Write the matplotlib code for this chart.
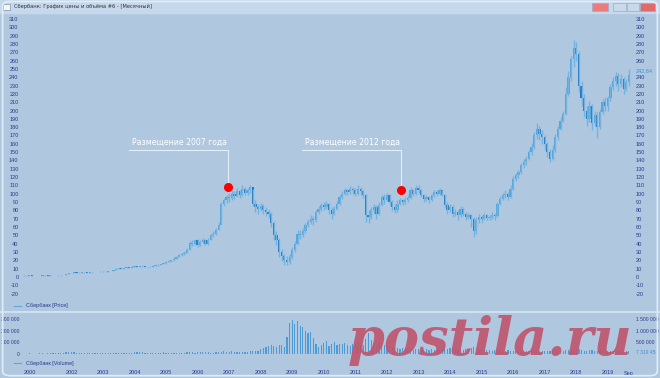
# Sberbank monthly price/volume chart (terminal window look)
import numpy as np
import matplotlib.pyplot as plt
from matplotlib.patches import Rectangle, FancyBboxPatch
from matplotlib.lines import Line2D

plt.rcParams['axes.unicode_minus'] = False
plt.rcParams['font.family'] = ['Liberation Sans', 'DejaVu Sans']

# monthly bars, Jul 2000 .. Sep 2019 (index 0 = Jul 2000)
close = [1.8, 1.7, 1.9, 1.6, 1.5, 1.6,
         1.7, 1.9, 2.0, 1.8, 2.0, 2.1, 2.0, 1.9, 2.2, 2.8, 3.6, 4.5,
         5.0, 5.5, 5.0, 5.4, 5.8, 5.5, 5.3, 5.6, 5.8, 5.9, 6.1, 6.4,
         6.5, 6.6, 6.8, 7.5, 8.6, 9.8, 10.5, 10.2, 11.0, 12.0, 11.4, 12.2,
         13.0, 12.5, 12.8, 13.3, 12.0, 11.8, 12.5, 13.2, 14.0, 14.5, 15.5, 16.8,
         18, 19, 20, 22, 24, 26, 27.5, 29, 33, 41, 40, 44,
         38, 42, 44, 40, 45, 50, 52, 57, 63, 88, 92, 96,
         95, 100, 97, 103, 98, 106, 101, 104, 108, 88, 84, 82,
         85, 80, 78, 76, 65, 50, 45, 30, 25, 20, 18, 24,
         33, 40, 52, 50, 55, 62, 66, 70, 68, 78, 82, 86,
         84, 88, 80, 76, 82, 88, 96, 100, 104, 102, 106, 104,
         100, 106, 103, 98, 75, 72, 80, 84, 76, 86, 96, 93,
         98, 90, 84, 80, 88, 92, 90, 93, 95, 104, 100, 107,
         104, 98, 94, 96, 92, 98, 102, 100, 104, 99, 86, 80,
         84, 76, 78, 74, 82, 76, 72, 74, 70, 55, 68, 72,
         70, 74, 71, 72, 75, 73, 88, 94, 98, 100, 96, 106,
         118, 122, 126, 134, 138, 142, 150, 156, 170, 178, 172, 168,
         160, 150, 142, 152, 168, 178, 188, 196, 220, 240, 262, 275,
         268, 230, 215, 200, 190, 205, 185, 195, 180, 198, 210, 205,
         215, 228, 235, 242, 232, 238, 226, 234, 243]
high = [2.0, 1.9, 2.0, 2.0, 1.7, 1.7,
        1.8, 2.0, 2.2, 2.1, 2.1, 2.3, 2.2, 2.1, 2.4, 3.0, 3.8, 4.8,
        5.4, 5.9, 5.7, 5.8, 6.2, 6.0, 5.7, 5.9, 6.1, 6.2, 6.4, 6.8,
        7.0, 7.0, 7.2, 7.8, 9.0, 10.3, 11.0, 11.0, 11.5, 12.6, 12.4, 12.8,
        13.6, 13.4, 13.3, 13.9, 13.5, 12.6, 12.9, 13.6, 14.5, 15.1, 16.0, 17.4,
        19, 20.5, 21, 23.5, 25, 27.5, 29, 31, 35, 43, 44, 46,
        46, 44, 47, 46, 47, 52, 55, 59, 66, 90, 95, 99,
        101, 104, 103, 107, 105, 110, 108, 107, 111, 106, 92, 88,
        89, 88, 84, 82, 78, 67, 55, 47, 34, 28, 25, 28,
        36, 43, 56, 57, 59, 65, 70, 74, 73, 80, 85, 89,
        90, 91, 89, 84, 85, 91, 98, 103, 107, 106, 109, 108,
        107, 110, 108, 105, 100, 80, 84, 88, 86, 90, 99, 100,
        101, 100, 92, 88, 92, 95, 94, 96, 98, 108, 106, 110,
        110, 106, 100, 99, 97, 100, 105, 105, 107, 105, 100, 90,
        88, 86, 82, 80, 85, 84, 78, 77, 76, 72, 72, 76,
        75, 77, 76, 75, 78, 77, 90, 97, 101, 104, 102, 110,
        121, 125, 129, 137, 142, 145, 153, 161, 174, 185, 182, 176,
        170, 162, 154, 158, 172, 182, 192, 200, 228, 248, 266, 285,
        282, 272, 236, 220, 206, 212, 208, 200, 198, 202, 214, 216,
        218, 232, 240, 246, 245, 244, 240, 238, 250]
low = [1.6, 1.6, 1.6, 1.5, 1.4, 1.4,
       1.5, 1.6, 1.8, 1.7, 1.7, 1.9, 1.9, 1.8, 1.8, 2.1, 2.7, 3.5,
       4.3, 4.8, 4.8, 4.9, 5.2, 5.2, 5.0, 5.1, 5.4, 5.6, 5.7, 5.9,
       6.2, 6.3, 6.4, 6.7, 7.4, 8.4, 9.5, 9.8, 10.0, 10.8, 11.0, 11.2,
       12.0, 12.2, 12.2, 12.5, 11.5, 11.2, 11.6, 12.3, 13.0, 13.8, 14.3, 15.2,
       16.2, 17.5, 18.5, 19.5, 21.5, 23.5, 25.5, 26.5, 28.5, 32, 37, 39,
       36, 37, 41, 38, 39, 44, 48, 51, 56, 64, 85, 89,
       90, 93, 94, 96, 95, 97, 98, 99, 101, 85, 78, 76,
       79, 76, 73, 71, 60, 44, 38, 24, 19, 15, 14, 16,
       22, 30, 38, 46, 48, 53, 60, 64, 63, 66, 76, 79,
       80, 82, 76, 70, 74, 80, 86, 94, 98, 98, 100, 100,
       97, 99, 99, 95, 66, 65, 70, 76, 70, 74, 85, 88,
       91, 87, 79, 77, 78, 86, 87, 88, 90, 94, 97, 98,
       101, 96, 90, 91, 89, 91, 96, 97, 99, 97, 84, 76,
       78, 72, 73, 69, 72, 73, 68, 70, 60, 48, 52, 65,
       65, 68, 68, 68, 70, 69, 72, 86, 92, 95, 93, 95,
       104, 115, 119, 124, 131, 134, 140, 147, 154, 166, 165, 160,
       152, 144, 138, 140, 150, 165, 176, 186, 195, 218, 236, 252,
       260, 222, 205, 192, 182, 186, 176, 182, 167, 178, 196, 200,
       200, 212, 225, 230, 224, 228, 220, 224, 230]
# volume, thousands
volume = [4, 3, 5, 4, 3, 4,
          5, 6, 4, 7, 8, 6, 5, 7, 9, 12, 15, 18,
          14, 20, 12, 10, 8, 9, 7, 6, 8, 7, 6, 9,
          8, 7, 9, 10, 12, 8, 7, 6, 8, 9, 11, 10,
          15, 18, 14, 16, 12, 10, 9, 8, 10, 12, 11, 13,
          9, 8, 10, 9, 11, 12, 10, 9, 13, 15, 14, 12,
          14, 16, 18, 15, 13, 12, 11, 14, 16, 20, 22, 18,
          20, 22, 18, 16, 19, 17, 15, 18, 24, 30, 26, 22,
          45, 55, 62, 70, 78, 72, 60, 75, 80, 62, 150, 270,
          290, 260, 280, 240, 230, 200, 180, 190, 135, 90, 60, 80,
          95, 110, 70, 85, 100, 75, 90, 85, 95, 80, 70, 90,
          85, 95, 80, 75, 130, 180, 120, 95, 85, 100, 80, 75,
          65, 70, 55, 60, 50, 45, 55, 50, 40, 42, 38, 45,
          40, 38, 35, 42, 36, 40, 38, 35, 42, 48, 52, 45,
          50, 55, 48, 45, 40, 38, 42, 46, 50, 58, 48, 44,
          40, 42, 38, 35, 30, 32, 34, 36, 30, 28, 32, 30,
          30, 28, 32, 30, 26, 28, 25, 27, 30, 32, 28, 26,
          28, 25, 30, 27, 24, 26, 28, 30, 32, 35, 38, 30,
          40, 45, 38, 30, 28, 32, 35, 30, 28, 32, 30, 28,
          26, 28, 25, 30, 24, 27, 25, 28, 22]

year_pos = [2.3, 18, 30, 42, 54, 66, 78, 90, 102, 114, 126, 138, 150, 162, 174, 186, 198, 210, 222, 230]
year_lbl = ['2000', '2002', '2003', '2004', '2005', '2006', '2007', '2008', '2009', '2010',
            '2011', '2012', '2013', '2014', '2015', '2016', '2017', '2018', '2019', 'Sep']

place_idx = [77.5, 143.3]
place_val = [108, 104.5]
place_txt = ['Размещение 2007 года', 'Размещение 2012 года']

assert len(close) == len(high) == len(low) == len(volume) == 231

BG = '#afc8df'
TXT = '#2b3990'
W, H = 660, 378
FS = 4.0
FSV = 3.6


def fx(x):
    return x / W


def fy(y):
    return 1 - y / H


fig = plt.figure(figsize=(6.6, 3.78), dpi=100)
fig.patch.set_facecolor(BG)

# title bar
fig.add_artist(Rectangle((0, fy(13)), 1, 13 / H, transform=fig.transFigure, color='#c6d9ec', zorder=0))
fig.add_artist(Rectangle((fx(3), fy(10)), 7 / W, 6 / H, transform=fig.transFigure,
                         facecolor='#f4f4f4', edgecolor='#8090a8', lw=0.5))
fig.text(fx(14), fy(6.5), 'Сбербанк: График цены и объёма #6 - [Месячный]', fontsize=3.7,
         color='#303030', va='center', family='DejaVu Sans')
for x0, w, c in [(592, 16, '#ee7b7b'), (613, 13, '#c9d9ea'), (627, 12, '#c9d9ea'), (640, 15, '#e06a6a')]:
    fig.add_artist(Rectangle((fx(x0), fy(11)), w / W, 8 / H, transform=fig.transFigure,
                             facecolor=c, edgecolor='#9aaec4', lw=0.5))

x = np.arange(len(close))
c = np.array(close)
o = np.r_[c[0], c[:-1]]
up = c >= o

# price panel
ax = fig.add_axes([fx(22), fy(300), (634 - 22) / W, (300 - 15) / H])
ax.set_facecolor('none')
ax.vlines(x, low, high, color='#74b2e0', lw=1.0)
ax.bar(x[up], (c - o)[up], bottom=o[up], width=0.85, color='#55a5dc')
ax.bar(x[~up], (c - o)[~up], bottom=o[~up], width=0.85, color='#1d78c0')
ax.set_xlim((22 - 24) / 2.63, (634 - 24) / 2.63)
ax.set_ylim((277 - 300) / 0.8324, (277 - 15) / 0.8324)
ax.set_yticks(range(-20, 311, 10))
ax.set_xticks([])
ax.tick_params(axis='y', length=0, labelsize=FS, labelcolor=TXT, pad=2.5)
axr = ax.twinx()
axr.set_ylim(ax.get_ylim())
axr.set_yticks([t for t in range(-20, 311, 10) if t != 250])
axr.tick_params(axis='y', length=0, labelsize=FS, labelcolor=TXT, pad=1.5)
for a in (ax, axr):
    for s in a.spines.values():
        s.set_visible(False)

for i, v, t in zip(place_idx, place_val, place_txt):
    ax.plot([i - 37.6, i, i], [152.6, 152.6, v], color='#e4eef7', lw=0.8)
    ax.plot(i, v, 'o', color='#ff0000', ms=5.5)
    ax.text(i - 36.5, 156, t, color='white', fontsize=5.6, va='bottom', family='DejaVu Sans')

fig.text(fx(636), fy(71), '242,84', fontsize=FS, color='#3d92d6', va='center')

# legend rows
fig.add_artist(Line2D([fx(14), fx(21)], [fy(306), fy(306)], color='#5aa6dc', lw=0.8))
fig.text(fx(26), fy(306), 'Сбербанк [Price]', fontsize=FS, color=TXT, va='center')
fig.add_artist(Line2D([0, 1], [fy(311.5), fy(311.5)], color='#d8e6f3', lw=1.2))
fig.add_artist(Line2D([fx(14), fx(21)], [fy(363), fy(363)], color='#5aa6dc', lw=0.8))
fig.text(fx(26), fy(363), 'Сбербанк [Volume]', fontsize=FS, color=TXT, va='center')

# volume panel
av = fig.add_axes([fx(22), fy(358), (634 - 22) / W, (358 - 313) / H])
av.set_facecolor('none')
av.bar(x, volume, width=0.45, color='#4c9bd7')
av.set_xlim(ax.get_xlim())
av.set_ylim(-(358 - 354) * 300 / 35, (354 - 313) * 300 / 35)
av.set_yticks([0, 100, 200, 300], ['0', '100 000', '200 000', '300 000'])
av.set_xticks(year_pos, year_lbl)
av.tick_params(length=0, labelsize=FSV, labelcolor=TXT, pad=1.5)
av.tick_params(axis='x', labelsize=FS, pad=9)
av2 = av.twinx()
av2.set_ylim(av.get_ylim())
av2.set_yticks([100, 200, 300], ['500 000', '1 000 000', '1 500 000'])
av2.tick_params(length=0, labelsize=FSV, labelcolor=TXT, pad=1.5)
for a in (av, av2):
    for s in a.spines.values():
        s.set_visible(False)
fig.text(fx(636), fy(352), '7 319 45', fontsize=FSV, color='#3d92d6', va='center')

# watermark
fig.text(fx(490), fy(355), 'postila.ru', fontsize=38, family='DejaVu Serif', style='italic',
         weight='bold', color='#c0566f', alpha=0.92, ha='center', va='baseline')

# window frame
fig.add_artist(FancyBboxPatch((0.004, 0.006), 0.992, 0.99, boxstyle='round,pad=0,rounding_size=0.012',
                              transform=fig.transFigure, facecolor='none', edgecolor='#e3ecf5', lw=1.2))

fig.savefig('out.png', dpi=100, facecolor=fig.get_facecolor())
